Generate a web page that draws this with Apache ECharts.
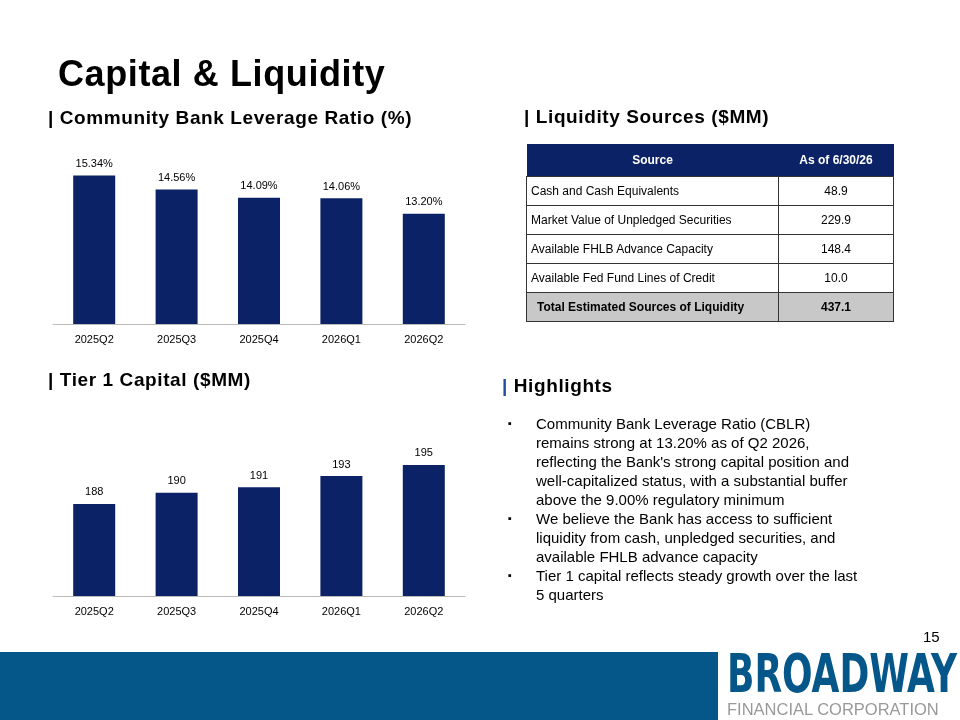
<!DOCTYPE html><html><head><meta charset="utf-8">
<script src="https://cdn.jsdelivr.net/npm/echarts@6/dist/echarts.min.js"></script>
<style>
body{margin:0;width:960px;height:720px;position:relative;font-family:"Liberation Sans",sans-serif;background:#fff;overflow:hidden}
#c{position:absolute;left:0;top:0;width:960px;height:720px}
.a{position:absolute}
h1{position:absolute;left:58px;top:53px;margin:0;font-size:36px;font-weight:bold;color:#000;letter-spacing:0.6px}
.st{position:absolute;font-size:19px;font-weight:bold;color:#000;letter-spacing:0.6px}
table{position:absolute;left:526px;top:144px;width:368px;border-collapse:collapse;font-size:12px}
td{border:1px solid #333;height:28px;padding:0 4px}
th{background:#0b2266;color:#fff;height:30px;font-weight:bold}
ul{position:absolute;left:508px;top:414px;width:372px;margin:0;padding:0;list-style:none;font-size:15px;line-height:19px}
li{position:relative;padding-left:28px;padding-right:18px}
li:before{content:"▪";position:absolute;left:0;font-size:11px}
</style></head><body>
<div id="c"></div>
<h1>Capital &amp; Liquidity</h1>
<div class="st" style="left:48px;top:107px">| Community Bank Leverage Ratio (%)</div>
<div class="st" style="left:524px;top:106px">| Liquidity Sources ($MM)</div>
<div class="st" style="left:48px;top:369px">| Tier 1 Capital ($MM)</div>
<div class="st" style="left:502px;top:375px"><span style="color:#1f4e9a">|</span> Highlights</div>
<table id="t"></table>
<ul id="h"></ul>
<div class="a" style="left:0;top:652px;width:960px;height:68px;background:#05578a"></div>
<div class="a" style="left:718px;top:648px;width:242px;height:72px;background:#fff"></div>
<div class="a" style="left:923px;top:628px;font-size:15px">15</div>
<div class="a" style="left:727px;top:647px;font-size:54px;line-height:54px;font-weight:bold;color:#05578a;font-family:'DejaVu Sans Condensed','Liberation Sans',sans-serif;transform:scaleX(0.74);transform-origin:left;white-space:nowrap">BROADWAY</div>
<div class="a" style="left:727px;top:700px;font-size:16.5px;color:#999;white-space:nowrap">FINANCIAL CORPORATION</div>
<script>
const quarters=['2025Q2','2025Q3','2025Q4','2026Q1','2026Q2'];
const cblr=[15.34,14.56,14.09,14.06,13.20];
const tier1=[188,190,191,193,195];
const sources=['Cash and Cash Equivalents','Market Value of Unpledged Securities','Available FHLB Advance Capacity','Available Fed Fund Lines of Credit'];
const amounts=['48.9','229.9','148.4','10.0'];
const total=['Total Estimated Sources of Liquidity','437.1'];
const highlights=["Community Bank Leverage Ratio (CBLR) remains strong at 13.20% as of Q2 2026, reflecting the Bank's strong capital position and well-capitalized status, with a substantial buffer above the 9.00% regulatory minimum","We believe the Bank has access to sufficient liquidity from cash, unpledged securities, and available FHLB advance capacity","Tier 1 capital reflects steady growth over the last 5 quarters"];
let h='<tr><th style="width:250px">Source</th><th>As of 6/30/26</th></tr>';
sources.forEach((s,i)=>h+=`<tr><td>${s}</td><td style="text-align:center">${amounts[i]}</td></tr>`);
h+=`<tr style="background:#c8c8c8;font-weight:bold"><td style="padding-left:10px">${total[0]}</td><td style="text-align:center">${total[1]}</td></tr>`;
document.getElementById('t').innerHTML=h;
document.getElementById('h').innerHTML=highlights.map(x=>'<li>'+x+'</li>').join('');
const ch=echarts.init(document.getElementById('c'));
const xa=i=>({type:'category',gridIndex:i,data:quarters,axisTick:{show:false},axisLine:{lineStyle:{color:'#bbb'}},axisLabel:{color:'#000',fontSize:11,margin:10,fontFamily:'Liberation Sans'}});
const ya=(i,mn,mx)=>({type:'value',gridIndex:i,min:mn,max:mx,show:false,splitLine:{show:false}});
ch.setOption({animation:false,textStyle:{fontFamily:'Liberation Sans'},
grid:[{left:53,width:412,top:146,height:178},{left:53,width:412,top:437,height:159}],
xAxis:[xa(0),xa(1)],yAxis:[ya(0,7,17),ya(1,171.5,200)],
series:[{type:'bar',data:cblr,barWidth:42,itemStyle:{color:'#0b2266'},label:{show:true,position:'top',distance:6,fontSize:11,color:'#000',formatter:p=>p.value.toFixed(2)+'%'}},
{type:'bar',xAxisIndex:1,yAxisIndex:1,data:tier1,barWidth:42,itemStyle:{color:'#0b2266'},label:{show:true,position:'top',distance:6,fontSize:11,color:'#000'}}]});
</script></body></html>
